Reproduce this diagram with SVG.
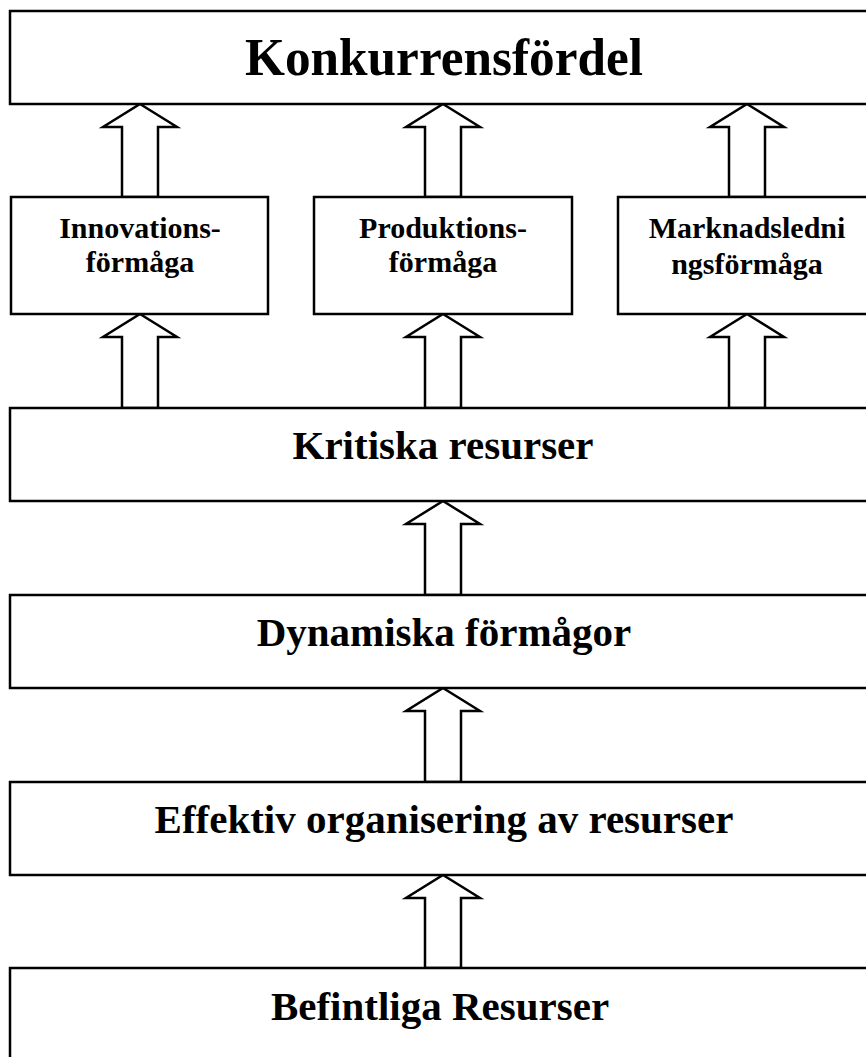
<svg xmlns="http://www.w3.org/2000/svg" width="866" height="1057" viewBox="0 0 866 1057">
  <style>
    .box { fill: #ffffff; stroke: #000000; stroke-width: 2.5; }
    .arrow { fill: #ffffff; stroke: #000000; stroke-width: 2.5; stroke-linejoin: miter; }
    .lbl { font-family: "Liberation Serif", "Times New Roman", serif; font-weight: bold; fill: #000000; text-anchor: middle; }
    .big { font-size: 41px; }
    .small { font-size: 30px; }
    .title { font-size: 53px; }
  </style>
  <rect width="866" height="1057" fill="#ffffff"/>

  <!-- block arrows -->
  <g id="connectors">
    <!-- capabilities up to competitive advantage -->
    <path class="arrow" d="M140,104 L177,127 L158,127 L158,197 L122,197 L122,127 L103,127 Z"/>
    <path class="arrow" d="M443,104 L480,127 L461,127 L461,197 L425,197 L425,127 L406,127 Z"/>
    <path class="arrow" d="M747,104 L784,127 L765,127 L765,197 L729,197 L729,127 L710,127 Z"/>
    <!-- critical resources up to capabilities -->
    <path class="arrow" d="M140,314 L177,337 L158,337 L158,408 L122,408 L122,337 L103,337 Z"/>
    <path class="arrow" d="M443,314 L480,337 L461,337 L461,408 L425,408 L425,337 L406,337 Z"/>
    <path class="arrow" d="M747,314 L784,337 L765,337 L765,408 L729,408 L729,337 L710,337 Z"/>
    <!-- central column -->
    <path class="arrow" d="M443,501 L480,524 L461,524 L461,595 L425,595 L425,524 L406,524 Z"/>
    <path class="arrow" d="M443,688 L480,711 L461,711 L461,782 L425,782 L425,711 L406,711 Z"/>
    <path class="arrow" d="M443,875 L480,898 L461,898 L461,968 L425,968 L425,898 L406,898 Z"/>
  </g>

  <g id="konkurrensfordel">
    <rect class="box" x="10" y="11" width="880" height="93"/>
    <text class="lbl title" x="444" y="75" textLength="398" lengthAdjust="spacingAndGlyphs">Konkurrensfördel</text>
  </g>

  <g id="innovationsformaga">
    <rect class="box" x="11" y="197" width="257" height="117"/>
    <text class="lbl small" x="140" y="238">Innovations-</text>
    <text class="lbl small" x="140" y="272">förmåga</text>
  </g>

  <g id="produktionsformaga">
    <rect class="box" x="314" y="197" width="258" height="117"/>
    <text class="lbl small" x="443" y="238">Produktions-</text>
    <text class="lbl small" x="443" y="272">förmåga</text>
  </g>

  <g id="marknadsledningsformaga">
    <rect class="box" x="618" y="197" width="270" height="117"/>
    <text class="lbl small" x="747" y="238">Marknadsledni</text>
    <text class="lbl small" x="747" y="274">ngsförmåga</text>
  </g>

  <g id="kritiska-resurser">
    <rect class="box" x="10" y="408" width="880" height="93"/>
    <text class="lbl big" x="443" y="459">Kritiska resurser</text>
  </g>

  <g id="dynamiska-formagor">
    <rect class="box" x="10" y="595" width="880" height="93"/>
    <text class="lbl big" x="444" y="646">Dynamiska förmågor</text>
  </g>

  <g id="effektiv-organisering">
    <rect class="box" x="10" y="782" width="880" height="93"/>
    <text class="lbl big" x="444" y="833">Effektiv organisering av resurser</text>
  </g>

  <g id="befintliga-resurser">
    <rect class="box" x="10" y="968" width="880" height="120"/>
    <text class="lbl big" x="440" y="1020">Befintliga Resurser</text>
  </g>
</svg>
